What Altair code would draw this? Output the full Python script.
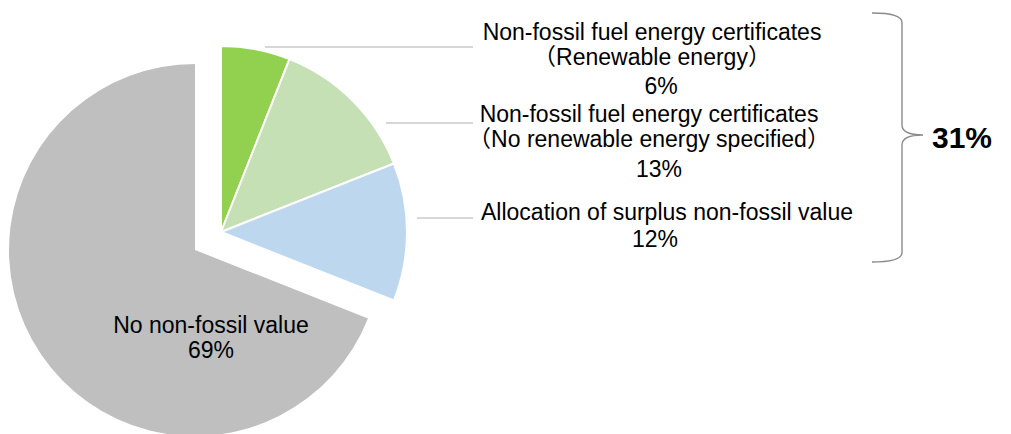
import altair as alt
import pandas as pd

# ---- data ----
categories = [
    "Non-fossil fuel energy certificates (Renewable energy)",
    "Non-fossil fuel energy certificates (No renewable energy specified)",
    "Allocation of surplus non-fossil value",
    "No non-fossil value",
]
values = [6, 13, 12, 69]
colors = ["#92D050", "#C5E0B4", "#BDD7EE", "#BFBFBF"]
label_lines = [
    ["Non-fossil fuel energy certificates", "（Renewable energy）"],
    ["Non-fossil fuel energy certificates", "（No renewable energy specified）"],
    ["Allocation of surplus non-fossil value"],
    ["No non-fossil value"],
]
exploded = "No non-fossil value"

FONT = "Liberation Sans, Arial, Noto Sans CJK JP, sans-serif"

df = pd.DataFrame({
    "cat": categories,
    "value": values,
    "fill": colors,
    "order": list(range(len(categories))),
})

theta = alt.Theta("value:Q", stack=True)
order = alt.Order("order:Q")
is_exp = alt.datum.cat == exploded

base = alt.Chart(df)

arcs_main = base.mark_arc(radius=186, stroke="white", strokeWidth=2).encode(
    theta=theta,
    order=order,
    fill=alt.Fill("fill:N", scale=None),
    opacity=alt.condition(is_exp, alt.value(0), alt.value(1)),
    x=alt.value(221),
    y=alt.value(232),
)

arcs_exp = base.mark_arc(radius=186).encode(
    theta=theta,
    order=order,
    fill=alt.Fill("fill:N", scale=None),
    opacity=alt.condition(is_exp, alt.value(1), alt.value(0)),
    x=alt.value(195),
    y=alt.value(250),
)

one = pd.DataFrame({"k": [0]})


def text_layer(txt, x, y, size=23, weight="normal", line_height=25):
    return alt.Chart(one).mark_text(
        text=txt, font=FONT, fontSize=size, fontWeight=weight,
        align="center", baseline="alphabetic", color="#000000",
        lineHeight=line_height,
    ).encode(x=alt.value(x), y=alt.value(y))


def rule(x1, y1, x2, y2, color="#AFAFAF", w=1.2):
    return alt.Chart(one).mark_rule(color=color, strokeWidth=w).encode(
        x=alt.value(x1), x2=alt.value(x2), y=alt.value(y1), y2=alt.value(y2)
    )


pct = [f"{v}%" for v in values]
group_total = f"{sum(values[:3])}%"

texts = [
    text_layer(label_lines[0], 652, 40),
    text_layer(pct[0], 661, 94),
    text_layer(label_lines[1], 649, 122),
    text_layer(pct[1], 659, 177),
    text_layer(label_lines[2][0], 667, 220),
    text_layer(pct[2], 655, 247),
    text_layer(label_lines[3][0], 211, 333),
    text_layer(pct[3], 211, 358),
    text_layer(group_total, 962, 148, size=30, weight="bold"),
]

leaders = [
    rule(265, 47, 473, 47),
    rule(386, 123, 473, 123),
    rule(417, 218, 473, 218),
]

brace_path = (
    "M -0.2 -0.996 Q 0.04 -0.996 0.04 -0.92 L 0.04 -0.1 "
    "Q 0.04 -0.02 0.208 -0.02 Q 0.04 -0.02 0.04 0.06 L 0.04 0.92 "
    "Q 0.04 0.996 -0.2 0.996"
)
brace = alt.Chart(one).mark_point(
    shape=brace_path, size=62500, filled=False, stroke="#8C8C8C",
    strokeWidth=1.4, opacity=1,
).encode(x=alt.value(897), y=alt.value(137.5))

chart = alt.layer(arcs_exp, arcs_main, *leaders, brace, *texts).properties(
    width=1011, height=434,
    autosize=alt.AutoSizeParams(type="none"),
    padding=0,
).configure_view(stroke=None)

chart.save("out.html", embed_options={"renderer": "svg", "actions": False})
